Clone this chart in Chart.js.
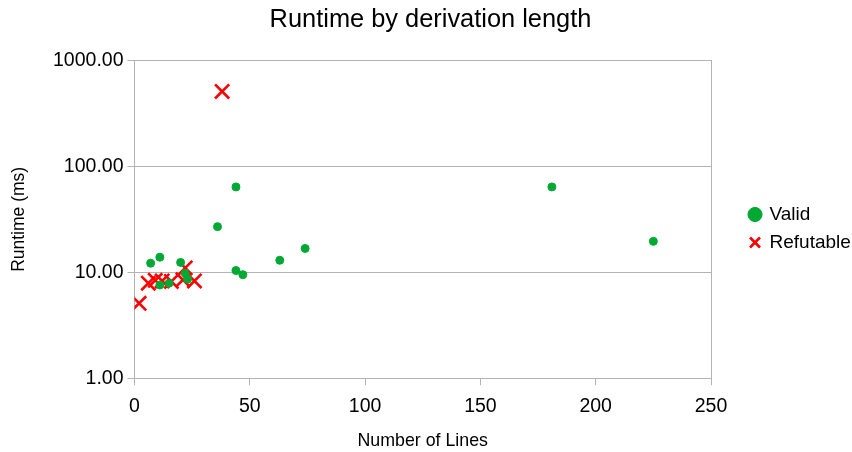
<!DOCTYPE html>
<html>
<head>
<meta charset="utf-8">
<script src="https://cdn.jsdelivr.net/npm/chart.js@4.4.0/dist/chart.umd.min.js"></script>
<style>
    html, body { margin: 0; padding: 0; background: #fff; }
    #wrap { width: 852px; height: 452px; }
</style>
</head>
<body>
<div id="wrap"><canvas id="chart"></canvas></div>
<script>
// number of lines / runtime (ms)
const validLines = [7, 11, 20, 22, 23, 11, 15, 36, 44, 44, 47, 63, 74, 181, 225];
const validRuntime = [12.2, 13.9, 12.4, 9.8, 8.6, 7.6, 7.9, 27, 64, 10.4, 9.5, 13, 16.8, 64, 19.6];
const refutableLines = [2, 6, 9, 12, 16, 21, 22, 26, 38];
const refutableRuntime = [5.1, 7.9, 8.4, 8.3, 8.2, 8.5, 11, 8.3, 510];
const yTicks = [1, 10, 100, 1000];

const green = '#00a933';
const red = '#ff0000';
const grey = '#b3b3b3';
const font = 'Liberation Sans, Arial, sans-serif';

const toPoints = (xs, ys) => xs.map((x, i) => ({ x: x, y: ys[i] }));

const ctx = document.getElementById('chart').getContext('2d');
new Chart(ctx, {
    type: 'scatter',
    data: {
        datasets: [{
            label: 'Valid',
            data: toPoints(validLines, validRuntime),
            pointStyle: 'circle',
            pointRadius: 4,
            borderWidth: 1,
            backgroundColor: green,
            borderColor: green,
        }, {
            label: 'Refutable',
            data: toPoints(refutableLines, refutableRuntime),
            pointStyle: 'crossRot',
            pointRadius: 10,
            borderWidth: 2.6,
            backgroundColor: red,
            borderColor: red,
        }]
    },
    options: {
        responsive: true,
        maintainAspectRatio: false,
        animation: false,
        layout: { padding: { top: 5, left: 9, right: 0, bottom: 0 } },
        plugins: {
            title: {
                display: true,
                text: 'Runtime by derivation length',
                color: '#000',
                font: { family: font, size: 25.4, weight: 'normal' },
                padding: { top: 0, bottom: 25 }
            },
            legend: {
                position: 'right',
                maxWidth: 111,
                labels: {
                    color: '#000',
                    font: { family: font, size: 19 },
                    usePointStyle: true,
                    boxWidth: 10,
                    boxHeight: 10,
                    padding: 9
                }
            },
            tooltip: { enabled: false }
        },
        scales: {
            x: {
                type: 'linear',
                min: 0,
                max: 250,
                ticks: {
                    stepSize: 50,
                    color: '#000',
                    font: { family: font, size: 19.5 },
                    padding: 10
                },
                grid: {
                    drawOnChartArea: false,
                    tickColor: grey,
                    tickLength: 7
                },
                border: { color: grey },
                title: {
                    display: true,
                    text: 'Number of Lines',
                    color: '#000',
                    font: { family: font, size: 17.8 },
                    padding: { top: 2, bottom: 0 }
                }
            },
            y: {
                type: 'logarithmic',
                min: 1,
                max: 1000,
                afterBuildTicks: axis => {
                    axis.ticks = yTicks.map(v => ({ value: v }));
                },
                ticks: {
                    color: '#000',
                    font: { family: font, size: 19.5 },
                    padding: 4,
                    callback: value => Number(value).toFixed(2)
                },
                grid: {
                    color: grey,
                    tickColor: grey,
                    tickLength: 7
                },
                border: { color: grey },
                title: {
                    display: true,
                    text: 'Runtime (ms)',
                    color: '#000',
                    font: { family: font, size: 17.5 },
                    padding: { top: 0, bottom: 19 }
                }
            },
            // right frame line + gap before the legend
            yRight: {
                type: 'logarithmic',
                position: 'right',
                min: 1,
                max: 1000,
                ticks: { display: false },
                grid: { drawOnChartArea: false, drawTicks: false },
                border: { color: grey },
                afterFit: axis => { axis.width = 30; }
            }
        }
    }
});
</script>
</body>
</html>
